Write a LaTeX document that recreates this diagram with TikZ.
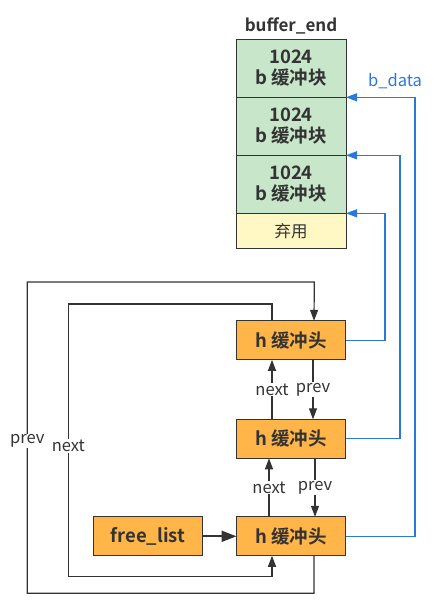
\documentclass[tikz,border=0pt]{standalone}
\usepackage{fontspec}
\setmainfont{Noto Sans CJK SC}[BoldFont={* Bold}]
\usetikzlibrary{positioning,arrows.meta,calc}
\definecolor{ink}{HTML}{333333}
\definecolor{blkgreen}{HTML}{C8E6C9}
\definecolor{wastey}{HTML}{FFF8C5}
\definecolor{headorg}{HTML}{FFB548}
\definecolor{ptrblue}{HTML}{2B78DC}
\tikzset{
  blk/.style={draw=ink,line width=1pt,fill=blkgreen,minimum width=110pt,minimum height=58pt,
    align=center,font=\fontsize{18.5}{21}\selectfont\bfseries,text=ink,inner sep=0pt,outer sep=0pt},
  head/.style={draw=ink,line width=1pt,fill=headorg,minimum width=109pt,minimum height=39pt,
    font=\fontsize{18.5}{21}\selectfont\bfseries,text=ink,inner sep=0pt,outer sep=0pt},
  link/.style={draw=ink,line width=1.2pt,-{Triangle[length=11pt,width=8pt]}},
  biglink/.style={draw=ink,line width=2pt,-{Triangle[length=15pt,width=11pt]}},
  bdata/.style={draw=ptrblue,line width=1.2pt,-{Triangle[length=11pt,width=8pt]}},
  lbl/.style={fill=white,text=ink,font=\fontsize{16.5}{19}\selectfont,inner sep=1pt}
}
\begin{document}
\begin{tikzpicture}[x=1pt,y=-1pt]
  \useasboundingbox (0,0) rectangle (437,610);
  % data blocks
  \node (blk1)[blk] at (291,68.3) {1024\\b 缓冲块};
  \node (blk2)[blk,below=0pt of blk1] {1024\\b 缓冲块};
  \node (blk3)[blk,below=0pt of blk2] {1024\\b 缓冲块};
  \node (waste)[blk,below=0pt of blk3,fill=wastey,minimum height=35pt,font=\fontsize{16.5}{19}\selectfont] {弃用};
  \node (bend)[above=2pt of blk1,text=ink,font=\fontsize{17}{20}\selectfont\bfseries] {buffer\_end};
  \node (bdlbl)[text=ptrblue,font=\fontsize{16.5}{19}\selectfont] at (395,81) {b\_data};
  % buffer heads
  \node (h1)[head] at (291,340.3) {h 缓冲头};
  \node (h2)[head] at (291,438.8) {h 缓冲头};
  \node (h3)[head] at (291,536.3) {h 缓冲头};
  \node (free)[head] at (148,536.3) {free\_list};
  \draw[biglink] (free) -- (h3);
  % b_data pointers
  \draw[bdata] (h1.east) -| ([xshift=39pt]waste.north east) -- (waste.north east);
  \draw[bdata] (h2.east) -| ([xshift=54pt]blk3.north east) -- (blk3.north east);
  \draw[bdata] (h3.east) -| ([xshift=69pt]blk2.north east) -- (blk2.north east);
  % next / prev between heads
  \draw[link] ([xshift=-19pt]h2.north) -- node[lbl]{next} ([xshift=-19pt]h1.south);
  \draw[link] ([xshift=22pt]h1.south) -- node[lbl]{prev} ([xshift=22pt]h2.north);
  \draw[link] ([xshift=-22pt]h3.north) -- node[lbl]{next} ([xshift=-22pt]h2.south);
  \draw[link] ([xshift=24pt]h2.south) -- node[lbl]{prev} ([xshift=24pt]h3.north);
  % circular links
  \draw[link] ([xshift=23pt]h3.south) |- (27.3,593.3) |- (314.3,282) -- ([xshift=23pt]h1.north);
  \draw[link] ([xshift=-19pt]h1.north) |- (68.3,304) |- (272,576.7) -- ([xshift=-19pt]h3.south);
  \node (prevlbl)[lbl] at (27.3,441) {prev};
  \node (nextlbl)[lbl] at (68.3,446) {next};
\end{tikzpicture}
\end{document}
